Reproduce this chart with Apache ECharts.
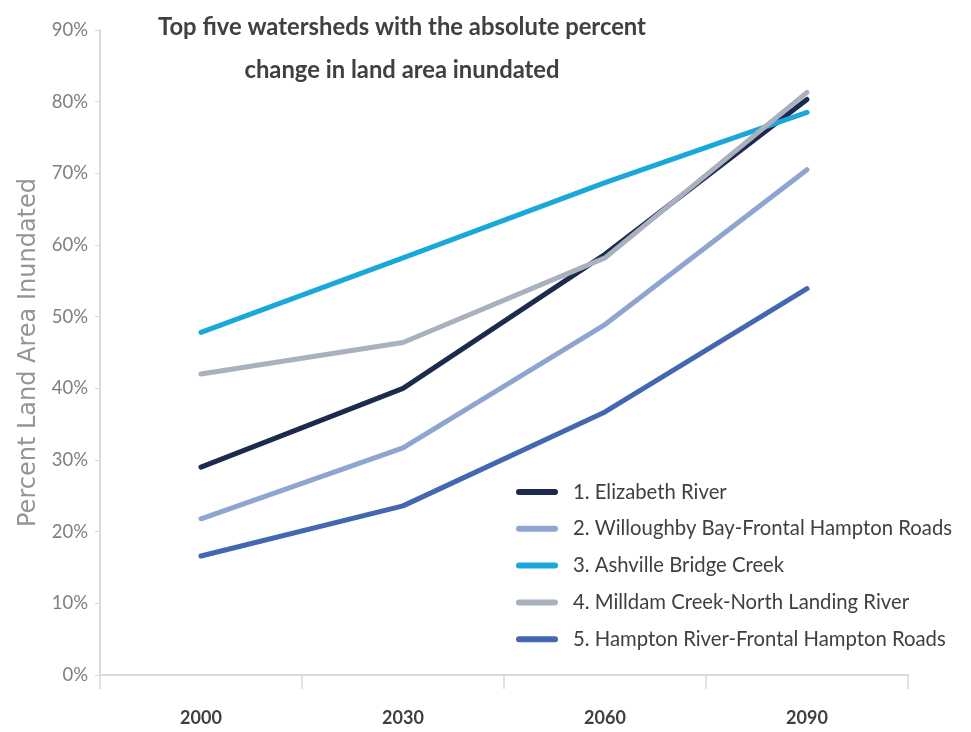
<!DOCTYPE html>
<html>
<head>
<meta charset="utf-8">
<title>Watershed inundation</title>
<script src="https://cdn.jsdelivr.net/npm/echarts@6/dist/echarts.min.js"></script>
<style>
  html, body { margin: 0; padding: 0; background: #ffffff; }
  #chart { width: 971px; height: 732px; }
</style>
</head>
<body>
<div id="chart"></div>
<script>
// Decades on the horizontal axis
const years = ['2000', '2030', '2060', '2090'];

// Percent of land area inundated per watershed
const elizabethRiver = [29.0, 40.0, 58.7, 80.3];
const willoughbyBay = [21.8, 31.7, 48.9, 70.5];
const ashvilleBridgeCreek = [47.8, 58.2, 68.7, 78.5];
const milldamCreek = [42.0, 46.4, 58.2, 81.3];
const hamptonRiver = [16.6, 23.6, 36.7, 53.9];

const seriesNames = [
  '1. Elizabeth River',
  '2. Willoughby Bay-Frontal Hampton Roads',
  '3. Ashville Bridge Creek',
  '4. Milldam Creek-North Landing River',
  '5. Hampton River-Frontal Hampton Roads'
];
const seriesValues = [elizabethRiver, willoughbyBay, ashvilleBridgeCreek, milldamCreek, hamptonRiver];
const seriesColors = ['#1c2b4d', '#8ea5d1', '#1aa7d9', '#a8b1bd', '#4467b1'];

const chart = echarts.init(document.getElementById('chart'), null, { renderer: 'canvas' });

// Rounded bar used as the legend swatch
const pill = 'path://M3,0 L39,0 A3,3 0 0 1 39,6 L3,6 A3,3 0 0 1 3,0 Z';

chart.setOption({
  backgroundColor: '#ffffff',
  animation: false,
  title: {
    text: 'Top five watersheds with the absolute percent\nchange in land area inundated',
    left: 397,
    top: 1,
    textAlign: 'center',
    textStyle: {
      fontFamily: 'Lato',
      fontWeight: 'bold',
      fontSize: 23.8,
      lineHeight: 43,
      color: '#404040'
    }
  },
  legend: {
    orient: 'vertical',
    left: 516,
    top: 482,
    padding: 0,
    itemWidth: 42,
    itemHeight: 6,
    itemGap: 16.8,
    icon: pill,
    data: seriesNames,
    textStyle: {
      fontFamily: 'Lato',
      fontSize: 20.3,
      lineHeight: 20,
      color: '#404040',
      padding: [0, 0, 0, 10]
    }
  },
  grid: {
    left: 100,
    right: 63,
    top: 30,
    bottom: 57
  },
  xAxis: {
    type: 'category',
    data: years,
    boundaryGap: true,
    axisLine: { lineStyle: { color: '#d9d9d9', width: 2 } },
    axisTick: { show: true, length: 14, lineStyle: { color: '#d9d9d9', width: 1.5 } },
    axisLabel: {
      margin: 34,
      fontFamily: 'Lato',
      fontWeight: 'bold',
      fontSize: 18,
      color: '#404040'
    }
  },
  yAxis: {
    type: 'value',
    min: 0,
    max: 90,
    interval: 10,
    name: 'Percent Land Area Inundated',
    nameLocation: 'middle',
    nameGap: 58,
    nameTextStyle: {
      fontFamily: 'DejaVu Sans',
      fontSize: 24,
      color: '#959595'
    },
    splitLine: { show: false },
    axisLine: { show: true, lineStyle: { color: '#d9d9d9', width: 2 } },
    axisTick: { show: true, length: 5, lineStyle: { color: '#d9d9d9' } },
    axisLabel: {
      margin: 12,
      formatter: '{value}%',
      fontFamily: 'Lato',
      fontSize: 18.5,
      color: '#7f7f7f'
    }
  },
  series: seriesNames.map((name, i) => ({
    name: name,
    type: 'line',
    data: seriesValues[i],
    symbol: 'none',
    color: seriesColors[i],
    lineStyle: { width: 5, color: seriesColors[i], cap: 'round', join: 'round' },
    z: i === 3 ? 3 : 2
  }))
});
</script>
</body>
</html>
